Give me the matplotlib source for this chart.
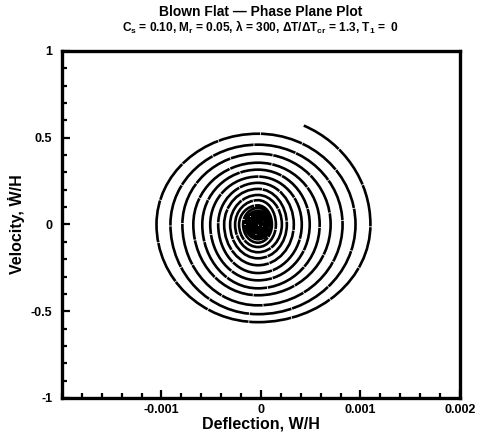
import numpy as np
import matplotlib.pyplot as plt
from matplotlib.path import Path
from matplotlib.patches import PathPatch
from matplotlib.ticker import FixedLocator, MultipleLocator

plt.rcParams['font.family'] = ['Liberation Sans', 'DejaVu Sans']
plt.rcParams['font.weight'] = 'bold'
plt.rcParams['mathtext.fontset'] = 'custom'
plt.rcParams['mathtext.rm'] = 'Liberation Sans:bold'
plt.rcParams['mathtext.it'] = 'Liberation Sans:bold'
plt.rcParams['mathtext.bf'] = 'Liberation Sans:bold'

# trajectory start (deflection, velocity)
start = (0.00043, 0.57)
x_center = -0.00003

# turn extremes, clockwise: right (v=0), bottom, left (v=0), top
right_x = [0.00110, 0.00095, 0.00082, 0.00070, 0.00059, 0.00049, 0.00041, 0.00033, 0.00026,
           0.00021, 0.00015, 0.00011,
           0.0001, 0.000084, 0.000068, 0.000052, 0.000036, 0.00002, 0.000004, -0.000012]
bottom_v = [-0.563, -0.517, -0.466, -0.408, -0.368, -0.322, -0.28, -0.235, -0.195,
            -0.16, -0.13, -0.105,
            -0.085, -0.072, -0.06, -0.048, -0.038, -0.027, -0.017, -0.008]
left_x = [-0.00105, -0.00091, -0.00079, -0.00068, -0.00059, -0.00051, -0.00043, -0.00037, -0.00031,
          -0.00026, -0.00022, -0.00018,
          -0.000155, -0.000138, -0.00012, -0.000104, -0.000088, -0.000072, -0.000056, -0.00004]
top_v = [0.523, 0.46, 0.408, 0.356, 0.316, 0.276, 0.24, 0.205, 0.17,
         0.14, 0.11, 0.095,
         0.078, 0.066, 0.054, 0.043, 0.033, 0.022, 0.013, 0.003]

xticks = [-0.001, 0, 0.001, 0.002]
xticklabels = ['-0.001', '0', '0.001', '0.002']
yticks = [-1, -0.5, 0, 0.5, 1]
yticklabels = ['-1', '-0.5', '0', '0.5', '1']

# nodes in drawing order with clockwise tangent at each
tang = {'R': (0, -1), 'B': (-1, 0), 'L': (0, 1), 'T': (1, 0)}
nodes = []
for r, b, l, t in zip(right_x, bottom_v, left_x, top_v):
    nodes += [((r, 0.0), 'R'), ((x_center, b), 'B'), ((l, 0.0), 'L'), ((x_center, t), 'T')]

k = 0.5523
verts = [start]
codes = [Path.MOVETO]

# first partial arc from start down to the first right extreme
a0 = right_x[0] - x_center
c0 = (start[0] - x_center) / a0
b0 = start[1] / np.sqrt(1 - c0 ** 2)
th0 = np.arccos(c0)
k0 = 4 / 3 * np.tan(th0 / 4)
verts += [(start[0] + k0 * a0 * np.sin(th0), start[1] - k0 * b0 * np.cos(th0)),
          (right_x[0], k0 * b0),
          (right_x[0], 0.0)]
codes += [Path.CURVE4] * 3

for (p, dp), (q, dq) in zip(nodes[:-1], nodes[1:]):
    p = np.array(p)
    q = np.array(q)
    tp = np.array(tang[dp])
    tq = np.array(tang[dq])
    c1 = p + k * tp * abs(np.dot(q - p, tp))
    c2 = q - k * tq * abs(np.dot(q - p, tq))
    verts += [tuple(c1), tuple(c2), tuple(q)]
    codes += [Path.CURVE4] * 3

fig = plt.figure(figsize=(4.82, 4.36), dpi=100)
ax = fig.add_axes([0.1286, 0.0872, 0.8257, 0.7959])

ax.add_patch(PathPatch(Path(verts, codes), facecolor='none', edgecolor='black', lw=1.9,
                       linestyle=(0, (16, 0.3))))

ax.set_xlim(-0.002, 0.002)
ax.set_ylim(-1, 1)
ax.xaxis.set_major_locator(FixedLocator(xticks))
ax.set_xticklabels(xticklabels)
ax.yaxis.set_major_locator(FixedLocator(yticks))
ax.set_yticklabels(yticklabels)
ax.xaxis.set_minor_locator(MultipleLocator(0.0002))
ax.yaxis.set_minor_locator(MultipleLocator(0.1))
ax.tick_params(which='both', direction='in', top=False, right=False, width=1.6, labelsize=9)
ax.tick_params(which='major', length=6)
ax.tick_params(which='minor', length=3.5)
ax.tick_params(axis='x', pad=4)
ax.tick_params(axis='y', pad=7)
for s in ax.spines.values():
    s.set_linewidth(2.4)

ax.set_xlabel('Deflection, W/H', fontsize=11.5, fontweight='bold', labelpad=1)
ax.set_ylabel('Velocity, Ẇ/H', fontsize=11.5, fontweight='bold')
ax.yaxis.set_label_coords(-0.093, 0.5)

fig.text(0.54, 0.972, 'Blown Flat \u2014 Phase Plane Plot', ha='center', va='center',
         fontsize=10, fontweight='bold')
fig.text(0.54, 0.938, r'$C_s$ = 0.10, $M_r$ = 0.05, λ = 300, ΔT/Δ$T_{cr}$ = 1.3, $T_1$ =  0',
         ha='center', va='center', fontsize=8.6, fontweight='bold')

fig.savefig('out.png', dpi=100)
